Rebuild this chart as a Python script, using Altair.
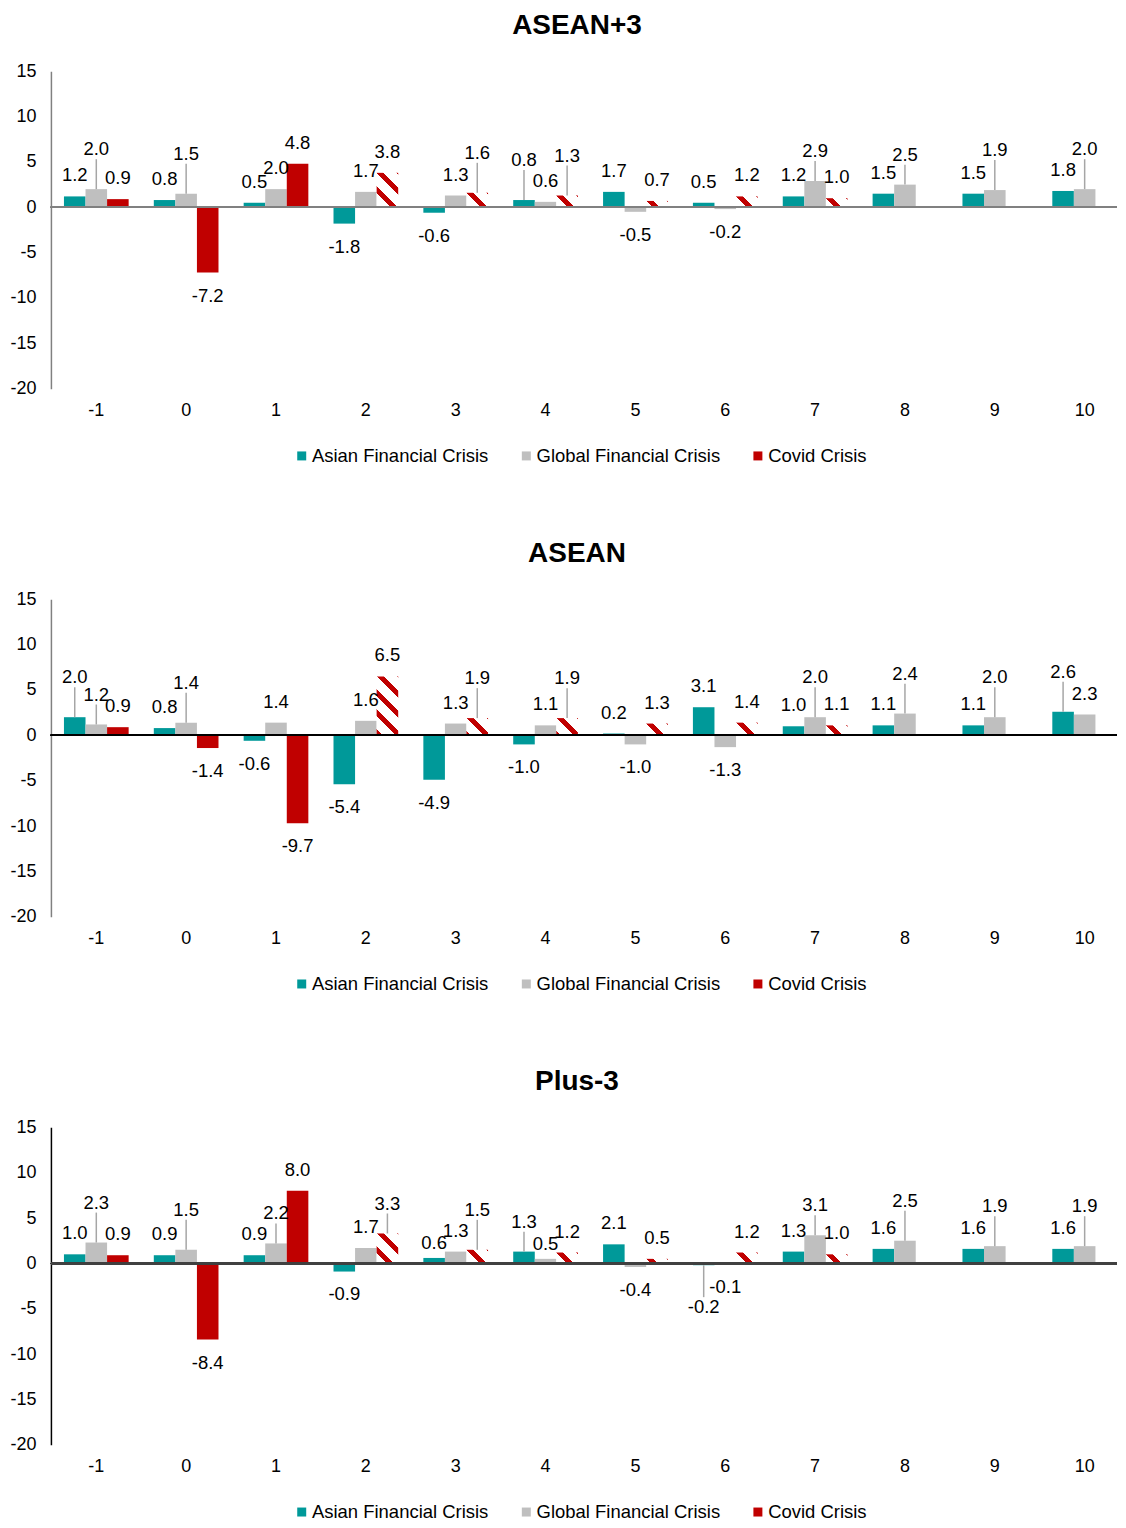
import math
import altair as alt

FONT = "Liberation Sans"

PERIODS = list(range(-1, 11))
SERIES = ["Asian Financial Crisis", "Global Financial Crisis", "Covid Crisis"]
COLORS = ["#009999", "#BFBFBF", "#C00000"]

# ---- data ----
asean3_afc = [1.2, 0.8, 0.5, -1.8, -0.6, 0.8, 1.7, 0.5, 1.2, 1.5, 1.5, 1.8]
asean3_gfc = [2.0, 1.5, 2.0, 1.7, 1.3, 0.6, -0.5, -0.2, 2.9, 2.5, 1.9, 2.0]
asean3_covid = [0.9, -7.2, 4.8, 3.8, 1.6, 1.3, 0.7, 1.2, 1.0, None, None, None]

asean_afc = [2.0, 0.8, -0.6, -5.4, -4.9, -1.0, 0.2, 3.1, 1.0, 1.1, 1.1, 2.6]
asean_gfc = [1.2, 1.4, 1.4, 1.6, 1.3, 1.1, -1.0, -1.3, 2.0, 2.4, 2.0, 2.3]
asean_covid = [0.9, -1.4, -9.7, 6.5, 1.9, 1.9, 1.3, 1.4, 1.1, None, None, None]

plus3_afc = [1.0, 0.9, 0.9, -0.9, 0.6, 1.3, 2.1, -0.2, 1.3, 1.6, 1.6, 1.6]
plus3_gfc = [2.3, 1.5, 2.2, 1.7, 1.3, 0.5, -0.4, -0.1, 3.1, 2.5, 1.9, 1.9]
plus3_covid = [0.9, -8.4, 8.0, 3.3, 1.5, 1.2, 0.5, 1.2, 1.0, None, None, None]

# Covid values from this period on are projections (hatched bars)
COVID_PROJECTION_FROM = 2

# label placement: period -> 1 short leader, 2 long leader, 3 tight (closer to bar, no leader)
asean3_lifted = {"Asian Financial Crisis": {4: 2},
                 "Global Financial Crisis": {-1: 2, 0: 2, 7: 1, 8: 1, 9: 2, 10: 2},
                 "Covid Crisis": {3: 2, 4: 2}}
asean_lifted = {"Asian Financial Crisis": {-1: 2, 10: 2},
                "Global Financial Crisis": {-1: 1, 0: 2, 7: 2, 8: 2, 9: 2},
                "Covid Crisis": {3: 2, 4: 2}}
plus3_lifted = {"Asian Financial Crisis": {3: 3, 4: 1, 6: 2},
                "Global Financial Crisis": {-1: 2, 0: 2, 1: 1, 4: 3, 7: 1, 8: 2, 9: 2, 10: 2},
                "Covid Crisis": {2: 1, 3: 2}}

# ---- layout ----
W, H = 1068, 318
PAD_IN, PAD_OUT = 0.28, 0.0725
STEP = W / (len(PERIODS) - PAD_IN + 2 * PAD_OUT)
BAR_W = STEP * (1 - PAD_IN) / 3
PPU = H / 35.0
STRIPE_PERIOD = 20.0
STRIPE_RED = 0.35
LABEL_SIZE = 18.5
AXIS_SIZE = 18
LABEL_GAP = {0: 21, 1: 30, 2: 40, 3: 15}
LEADER_LEVELS = (1, 2)


def hatch(value):
    """Diagonal red/white stripes as a linear gradient in the bar's bounding box."""
    w = BAR_W
    h = max(abs(value) * PPU, 0.5)
    total = w + h
    P = STRIPE_PERIOD
    edges = {-h, w}
    for k in range(math.floor(-h / P) - 1, math.ceil(w / P) + 2):
        for e in (k * P, k * P + STRIPE_RED * P):
            if -h < e < w:
                edges.add(e)
    edges = sorted(edges)
    stops = []
    for a, b in zip(edges[:-1], edges[1:]):
        mid = (a + b) / 2
        c = "#C00000" if (mid % P) < STRIPE_RED * P else "#FFFFFF"
        stops.append({"offset": (a + h) / total, "color": c})
        stops.append({"offset": (b + h) / total, "color": c})
    k = total / (w * w + h * h)
    return {"gradient": "linear", "x1": 0, "y1": 1, "x2": k * w, "y2": 1 - k * h, "stops": stops}


def panel(title, afc, gfc, covid, lifted, zero_color, axis_color):
    rows = []
    for s, vals in zip(SERIES, [afc, gfc, covid]):
        for p, v in zip(PERIODS, vals):
            if v is None:
                continue
            hatched = (s == "Covid Crisis") and p >= COVID_PROJECTION_FROM
            r = {"period": p, "series": s, "value": v, "label": f"{v:.1f}",
                 "hatched": hatched, "lift": lifted[s].get(p, 0)}
            if hatched:
                r["grad"] = hatch(v)
            rows.append(r)
    data = alt.Data(values=rows)

    x_enc = alt.X("period:O",
                  scale=alt.Scale(domain=PERIODS, paddingInner=PAD_IN, paddingOuter=PAD_OUT, align=1),
                  axis=alt.Axis(title=None, domain=False, ticks=False, labelAngle=0,
                                labelFontSize=AXIS_SIZE, labelFont=FONT, labelColor="#000000",
                                labelPadding=13))
    xo_enc = alt.XOffset("series:N", scale=alt.Scale(domain=SERIES))
    y_enc = alt.Y("value:Q", stack=None,
                  scale=alt.Scale(domain=[-20, 15], nice=False),
                  axis=alt.Axis(title=None, values=list(range(-20, 16, 5)), grid=False,
                                ticks=False, domainColor=axis_color, domainWidth=1.5,
                                labelFontSize=AXIS_SIZE, labelFont=FONT, labelColor="#000000",
                                labelPadding=15, labelExpr="'' + datum.value"))

    base = alt.Chart(data).encode(x=x_enc, xOffset=xo_enc, y=y_enc)

    solid = base.mark_bar().encode(
        color=alt.Color("series:N",
                        scale=alt.Scale(domain=SERIES, range=COLORS),
                        legend=alt.Legend(title=None, orient="none", legendX=242, legendY=H + 58,
                                          direction="horizontal", symbolType="square",
                                          symbolSize=81, symbolStrokeWidth=0,
                                          labelFontSize=LABEL_SIZE, labelFont=FONT,
                                          labelColor="#000000", labelLimit=0,
                                          columnPadding=28, labelOffset=1, padding=0))
    ).transform_filter("!datum.hatched")

    hatched = base.mark_bar().encode(
        fill=alt.Fill("grad:N", scale=None)
    ).transform_filter("datum.hatched")

    zero = alt.Chart(data).mark_rule(color=zero_color, strokeWidth=1.5).encode(y=alt.datum(0))

    layers = [solid, hatched, zero]
    txt_kw = dict(fontSize=LABEL_SIZE, font=FONT, color="#000000", baseline="middle")
    for lvl, gap in LABEL_GAP.items():
        layers.append(base.mark_text(dy=-gap, **txt_kw).encode(text="label:N").transform_filter(
            f"datum.value >= 0 && datum.lift == {lvl}"))
        layers.append(base.mark_text(dy=gap + 2, **txt_kw).encode(text="label:N").transform_filter(
            f"datum.value < 0 && datum.lift == {lvl}"))
        if lvl in LEADER_LEVELS:
            layers.append(base.mark_rule(color="#A6A6A6", strokeWidth=1.5, y2Offset=-(gap - 10)).encode(
                y2=alt.Y2("value:Q")).transform_filter(f"datum.value >= 0 && datum.lift == {lvl}"))
            layers.append(base.mark_rule(color="#A6A6A6", strokeWidth=1.5, y2Offset=gap - 8).encode(
                y2=alt.Y2("value:Q")).transform_filter(f"datum.value < 0 && datum.lift == {lvl}"))

    return alt.layer(*layers).properties(
        width=W, height=H,
        title=alt.TitleParams(text=title, fontSize=28, font=FONT, fontWeight="bold",
                              anchor="middle", offset=22, dx=-7, color="#000000"))


p1 = panel("ASEAN+3", asean3_afc, asean3_gfc, asean3_covid, asean3_lifted, "#808080", "#808080")
p2 = panel("ASEAN", asean_afc, asean_gfc, asean_covid, asean_lifted, "#000000", "#808080")
p3 = panel("Plus-3", plus3_afc, plus3_gfc, plus3_covid, plus3_lifted, "#404040", "#000000")

chart = alt.vconcat(p1, p2, p3, spacing=75).resolve_scale(
    color="independent").resolve_legend(color="independent").configure_view(
    stroke=None).properties(padding={"left": 1, "right": 0, "top": 3, "bottom": 0})

chart.save("out.html", embed_options={"renderer": "svg", "actions": False})
